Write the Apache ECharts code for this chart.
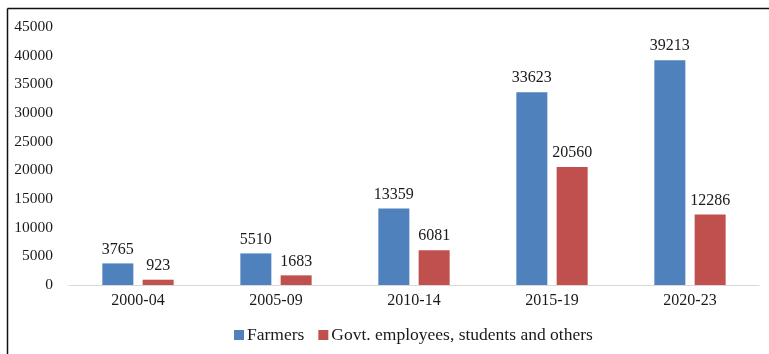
<!DOCTYPE html>
<html>
<head>
<meta charset="utf-8">
<script src="https://cdn.jsdelivr.net/npm/echarts@6/dist/echarts.min.js"></script>
<style>
  html, body { margin: 0; padding: 0; background: #fff; }
  #chart { width: 769px; height: 354px; }
</style>
</head>
<body>
<div id="chart"></div>
<script>
// Periods and counts per group
const periods = ['2000-04', '2005-09', '2010-14', '2015-19', '2020-23'];
const farmers = [3765, 5510, 13359, 33623, 39213];
const others = [923, 1683, 6081, 20560, 12286];
const seriesNames = ['Farmers', 'Govt. employees, students and others'];

const FONT = '"Liberation Serif", "Times New Roman", serif';
const TEXT = '#1a1a1a';

const chart = echarts.init(document.getElementById('chart'));

const labelStyle = {
  show: true,
  position: 'top',
  distance: 6,
  color: TEXT,
  fontFamily: FONT,
  fontSize: 16
};

chart.setOption({
  animation: false,
  grid: { left: 69, right: 10, top: 27, bottom: 69 },
  legend: {
    left: 229,
    top: 321,
    itemWidth: 10,
    itemHeight: 10,
    itemGap: 14,
    icon: 'rect',
    textStyle: { color: TEXT, fontFamily: FONT, fontSize: 17.5, padding: [0, 0, 0, -2] },
    data: seriesNames
  },
  xAxis: {
    type: 'category',
    data: periods,
    axisLine: { lineStyle: { color: '#d9d9d9', width: 1 } },
    axisTick: { show: false },
    axisLabel: { color: TEXT, fontFamily: FONT, fontSize: 16, margin: 8 }
  },
  yAxis: {
    type: 'value',
    min: 0,
    max: 45000,
    interval: 5000,
    axisLine: { show: false },
    axisTick: { show: false },
    splitLine: { show: false },
    axisLabel: {
      color: TEXT,
      fontFamily: FONT,
      fontSize: 15.5,
      margin: 16,
      formatter: (v) => String(v)
    }
  },
  graphic: [
    { type: 'line', shape: { x1: 7.5, y1: 8.5, x2: 769, y2: 8.5 }, style: { stroke: '#111', lineWidth: 1.5 } },
    { type: 'line', shape: { x1: 7.5, y1: 8.5, x2: 7.5, y2: 354 }, style: { stroke: '#111', lineWidth: 1.5 } }
  ],
  series: [
    {
      name: seriesNames[0],
      type: 'bar',
      data: farmers,
      barWidth: 31,
      barGap: '30%',
      itemStyle: { color: '#4F81BD' },
      label: labelStyle
    },
    {
      name: seriesNames[1],
      type: 'bar',
      data: others,
      barWidth: 31,
      itemStyle: { color: '#C0504D' },
      label: labelStyle
    }
  ]
});
</script>
</body>
</html>
